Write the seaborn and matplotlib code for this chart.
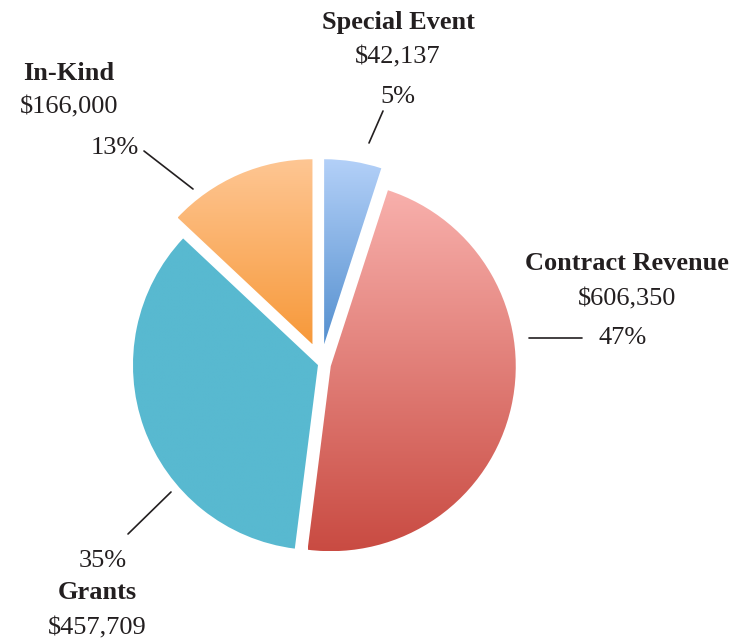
import numpy as np
import matplotlib
matplotlib.use("Agg")
import matplotlib.pyplot as plt
from matplotlib.colors import LinearSegmentedColormap
import seaborn as sns

# Data
categories = ["Special Event", "Contract Revenue", "Grants", "In-Kind"]
amounts = [42137, 606350, 457709, 166000]
percents = [5, 47, 35, 13]

# Gradient colours per slice (top -> bottom)
top_colors = ["#b3d0f8", "#f8b0ac", "#58b9d0", "#fec693"]
bottom_colors = ["#5590cf", "#c94b42", "#58b9d0", "#f7993a"]

sns.set_theme(style="white")
plt.rcParams["font.family"] = ["Liberation Serif", "DejaVu Serif"]
text_color = "#231f20"

W, H = 738, 641
fig = plt.figure(figsize=(W / 100, H / 100), dpi=100)
ax = fig.add_axes([0, 0, 1, 1])

# pixel offsets of each slice (matplotlib does not scale explode by radius)
explode = [20.0, 10.0, 3.2, 21.5]
wedges, _ = ax.pie(percents, explode=explode, startangle=90, counterclock=False,
                   radius=185, center=(321, H - 364), frame=True)

grad = np.linspace(0, 1, 256).reshape(-1, 1)
for w, c_top, c_bot in zip(wedges, top_colors, bottom_colors):
    th = np.radians(np.linspace(w.theta1, w.theta2, 200))
    cx, cy = w.center
    xs = np.concatenate([[cx], cx + w.r * np.cos(th)])
    ys = np.concatenate([[cy], cy + w.r * np.sin(th)])
    cmap = LinearSegmentedColormap.from_list("g", [c_bot, c_top])
    ax.imshow(grad, cmap=cmap, origin="lower", aspect="auto",
              extent=[xs.min(), xs.max(), ys.min(), ys.max()],
              interpolation="bilinear", clip_path=w, zorder=2)
    w.set_facecolor("none")
    w.set_edgecolor("none")

# label layout: (x centre, baselines for title / amount / percent)
label_pos = {
    "Special Event": (398, 29, 63, 103),
    "In-Kind": (69, 80, 113, None),
    "Contract Revenue": (627, 270, 305, None),
    "Grants": (97, 599, 634, 567),
}
pct_pos = {"In-Kind": (115, 154), "Contract Revenue": (623, 344)}
leaders = {
    "Special Event": [(383, 111), (369, 143)],
    "In-Kind": [(144, 151), (193, 189)],
    "Contract Revenue": [(529, 338), (582, 338)],
    "Grants": [(128, 534), (171, 492)],
}

for cat, amt, pct in zip(categories, amounts, percents):
    x, yt, ya, yp = label_pos[cat]
    ax.text(x, H - yt, cat, ha="center", va="baseline", fontsize=19,
            fontweight="bold", color=text_color)
    ax.text(x, H - ya, f"${amt:,}", ha="center", va="baseline", fontsize=19,
            color=text_color)
    if yp is None:
        px, yp = pct_pos[cat]
    else:
        px = x + (6 if cat == "Grants" else 0)
    ax.text(px, H - yp, f"{pct}%", ha="center", va="baseline", fontsize=19,
            color=text_color)
    (x0, y0), (x1, y1) = leaders[cat]
    ax.plot([x0, x1], [H - y0, H - y1], color=text_color, lw=1.2)

ax.set_xlim(0, W)
ax.set_ylim(0, H)
ax.set_aspect("auto")
ax.axis("off")
fig.savefig("out.png", dpi=100, facecolor="white")
